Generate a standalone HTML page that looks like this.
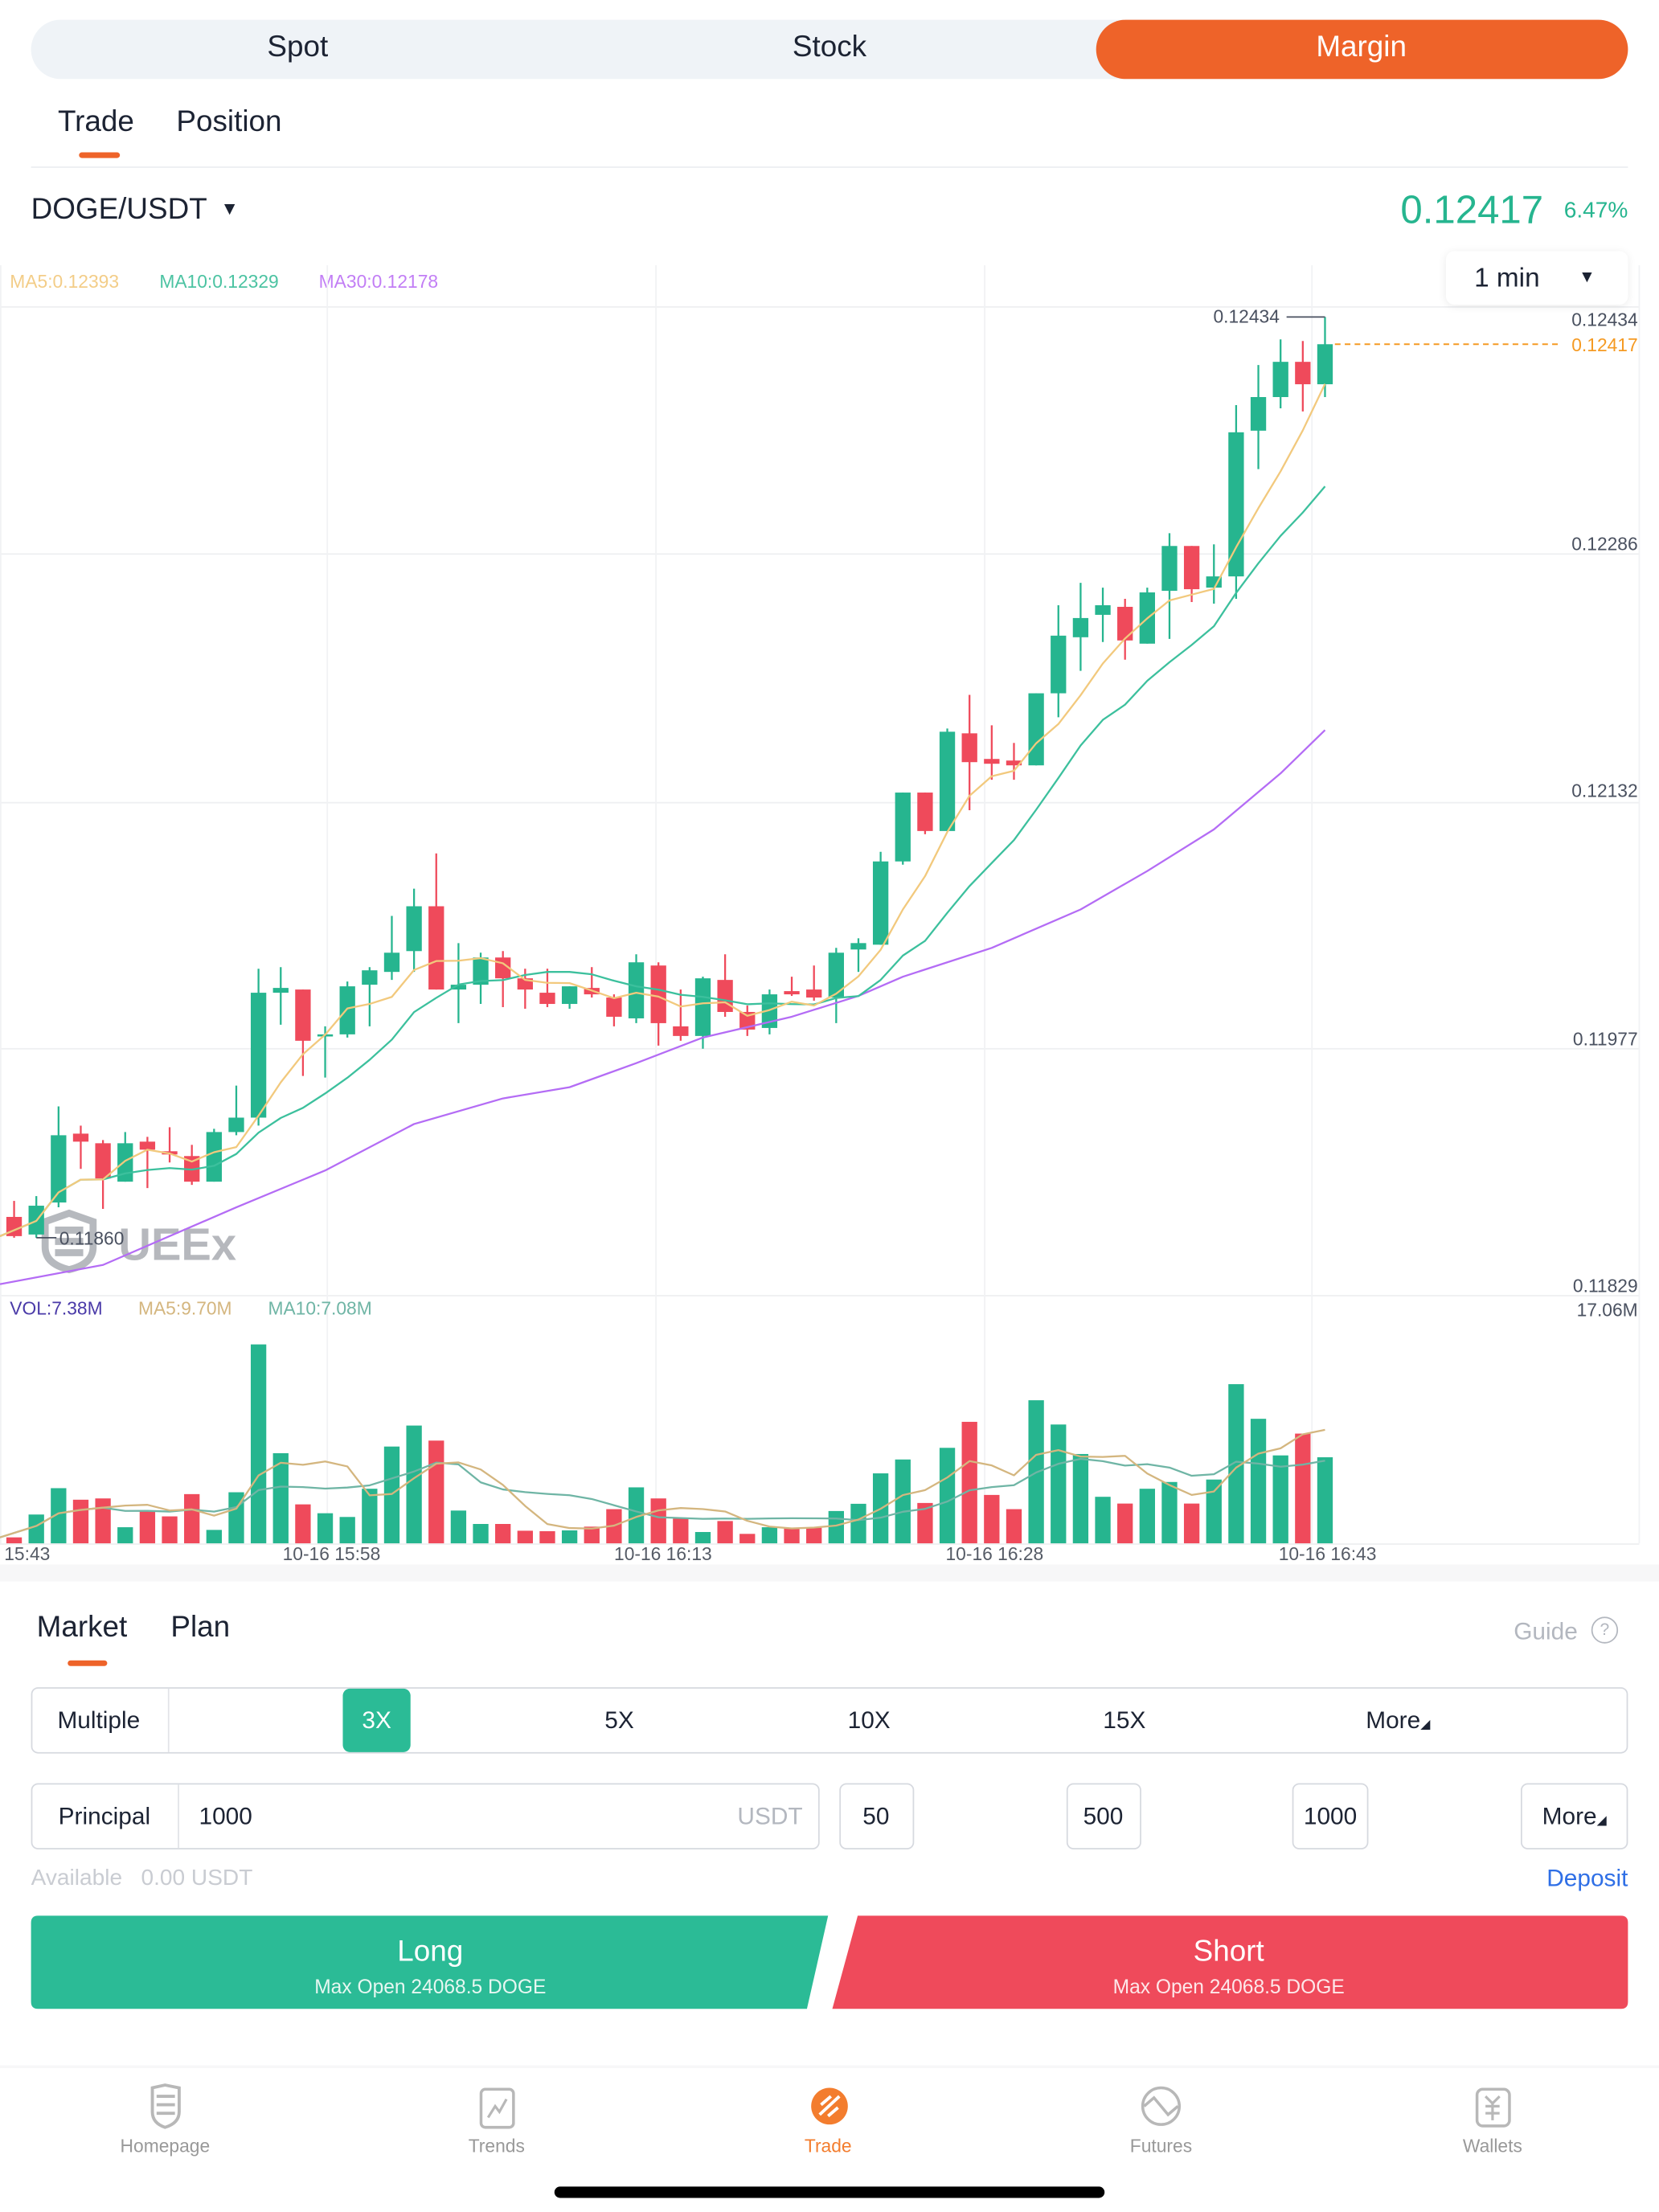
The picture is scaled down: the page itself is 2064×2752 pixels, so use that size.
<!DOCTYPE html>
<html><head><meta charset="utf-8">
<style>
html,body{margin:0;padding:0;background:#fff;}
body{width:2064px;height:2752px;overflow:hidden;position:relative;font-family:"Liberation Sans","DejaVu Sans",sans-serif;}
#page{position:absolute;left:0;top:0;width:1176px;height:1568px;transform:scale(1.7551);transform-origin:0 0;color:#1c2333;}
.abs{position:absolute;}
.ctr{position:absolute;transform:translate(-50%,-50%);white-space:nowrap;}
.box{position:absolute;border:1px solid #d6d9df;border-radius:5px;box-sizing:border-box;}
</style></head>
<body>
<div id="page">
  <div class="abs" style="left:22px;top:14px;width:1132px;height:42px;background:#eff3f7;border-radius:21px;"></div>
  <div class="abs" style="left:777px;top:14px;width:377px;height:42px;background:#ee6329;border-radius:21px;"></div>
  <div class="ctr" style="left:211px;top:34px;font-size:21px;">Spot</div>
  <div class="ctr" style="left:588px;top:34px;font-size:21px;">Stock</div>
  <div class="ctr" style="left:965px;top:34px;font-size:21px;color:#fff;">Margin</div>

  <div class="abs" style="left:41px;top:75px;font-size:21px;">Trade</div>
  <div class="abs" style="left:125px;top:75px;font-size:21px;">Position</div>
  <div class="abs" style="left:56px;top:108px;width:29px;height:4px;background:#ee6329;border-radius:2px;"></div>
  <div class="abs" style="left:22px;top:118px;width:1132px;height:1px;background:#eceef1;"></div>

  <div class="abs" style="left:22px;top:137px;font-size:21px;">DOGE/USDT <span style="font-size:13px;position:relative;top:-3px;left:4px;">▼</span></div>
  <div class="abs" style="right:82px;top:133px;font-size:28px;color:#26b58f;">0.12417</div>
  <div class="abs" style="right:22px;top:141px;font-size:16px;color:#26b58f;">6.47%</div>

  <div class="abs" style="left:7px;top:192px;font-size:13px;color:#f3cd88;">MA5:0.12393</div>
  <div class="abs" style="left:113px;top:192px;font-size:13px;color:#4cc3a2;">MA10:0.12329</div>
  <div class="abs" style="left:226px;top:192px;font-size:13px;color:#c27ef5;">MA30:0.12178</div>

  <svg class="abs" style="left:0;top:0;" width="1176" height="1130" viewBox="0 0 1176 1130" id="chart">
  </svg>

  <div class="abs" style="left:1025px;top:178px;width:129px;height:38px;background:#fff;border-radius:6px;box-shadow:0 1px 6px rgba(0,0,0,0.08);">
    <span class="abs" style="left:20px;top:9px;font-size:19px;">1 min</span>
    <span class="abs" style="left:94px;top:11px;font-size:12px;">▼</span>
  </div>

  <div class="abs" style="left:0;top:1109px;width:1176px;height:12px;background:#f7f7f8;"></div>

  <div class="abs" style="left:26px;top:1142px;font-size:21px;">Market</div>
  <div class="abs" style="left:121px;top:1142px;font-size:21px;">Plan</div>
  <div class="abs" style="left:48px;top:1177px;width:28px;height:4px;background:#ee6329;border-radius:2px;"></div>
  <div class="abs" style="left:1073px;top:1147px;font-size:17px;color:#b3b7bf;">Guide</div>
  <div class="abs" style="left:1128px;top:1146px;width:17px;height:17px;border:1.5px solid #b3b7bf;border-radius:50%;font-size:12px;color:#b3b7bf;text-align:center;line-height:17px;">?</div>

  <div class="box" style="left:22px;top:1196px;width:1132px;height:47px;"></div>
  <div class="abs" style="left:119px;top:1197px;width:1px;height:45px;background:#e2e4e8;"></div>
  <div class="ctr" style="left:70px;top:1220px;font-size:17px;">Multiple</div>
  <div class="abs" style="left:243px;top:1197px;width:48px;height:45px;background:#2bbb96;border-radius:5px;"></div>
  <div class="ctr" style="left:267px;top:1220px;font-size:17px;color:#fff;">3X</div>
  <div class="ctr" style="left:439px;top:1220px;font-size:17px;">5X</div>
  <div class="ctr" style="left:616px;top:1220px;font-size:17px;">10X</div>
  <div class="ctr" style="left:797px;top:1220px;font-size:17px;">15X</div>
  <div class="ctr" style="left:991px;top:1220px;font-size:17px;">More<span style="font-size:9px;">◢</span></div>

  <div class="box" style="left:22px;top:1264px;width:559px;height:47px;"></div>
  <div class="abs" style="left:126px;top:1265px;width:1px;height:45px;background:#e2e4e8;"></div>
  <div class="ctr" style="left:74px;top:1288px;font-size:17px;">Principal</div>
  <div class="abs" style="left:141px;top:1278px;font-size:17px;">1000</div>
  <div class="abs" style="right:607px;top:1278px;font-size:17px;color:#b3b7bf;">USDT</div>
  <div class="box" style="left:595px;top:1264px;width:53px;height:47px;"></div>
  <div class="ctr" style="left:621px;top:1288px;font-size:17px;">50</div>
  <div class="box" style="left:756px;top:1264px;width:53px;height:47px;"></div>
  <div class="ctr" style="left:782px;top:1288px;font-size:17px;">500</div>
  <div class="box" style="left:916px;top:1264px;width:54px;height:47px;"></div>
  <div class="ctr" style="left:943px;top:1288px;font-size:17px;">1000</div>
  <div class="box" style="left:1078px;top:1264px;width:76px;height:47px;"></div>
  <div class="ctr" style="left:1116px;top:1288px;font-size:17px;">More<span style="font-size:9px;">◢</span></div>

  <div class="abs" style="left:22px;top:1323px;font-size:16px;color:#c9ccd2;">Available&nbsp;&nbsp;&nbsp;0.00 USDT</div>
  <div class="abs" style="right:22px;top:1322px;font-size:17px;color:#2f6fe6;">Deposit</div>

  <svg class="abs" style="left:0;top:1350px;" width="1176" height="80">
    <path d="M27 8 H587 L572 74 H27 Q22 74 22 69 V13 Q22 8 27 8Z" fill="#2bbb96"/>
    <path d="M608 8 H1149 Q1154 8 1154 13 V69 Q1154 74 1149 74 H590Z" fill="#ef4a5b"/>
  </svg>
  <div class="ctr" style="left:305px;top:1384px;font-size:21px;color:#fff;">Long</div>
  <div class="ctr" style="left:305px;top:1408px;font-size:14px;color:#e6f7f1;">Max Open 24068.5 DOGE</div>
  <div class="ctr" style="left:871px;top:1384px;font-size:21px;color:#fff;">Short</div>
  <div class="ctr" style="left:871px;top:1408px;font-size:14px;color:#fde8ea;">Max Open 24068.5 DOGE</div>

  <div class="abs" style="left:0;top:1464px;width:1176px;height:2px;background:#f7f7f8;"></div>
  <svg class="abs" style="left:0;top:1475px;" width="1176" height="36">
    <path d="M108 5 L117 3 L127 5 V22 Q127 30 117 33 Q108 30 108 22Z M111 11 H124 M111 17 H124 M111 23 H124" fill="none" stroke="#b8b8b8" stroke-width="2.2"/>
    <rect x="341" y="6" width="23" height="27" rx="3" fill="none" stroke="#b8b8b8" stroke-width="2"/>
    <path d="M346 26 L351 18 L354 22 L359 13" fill="none" stroke="#b8b8b8" stroke-width="1.8"/>
    <circle cx="588" cy="18" r="13" fill="#f37d2e"/>
    <path d="M581 24 L595 11 M582 17 L589 11 M587 25 L594 19" stroke="#fff" stroke-width="2.2"/>
    <circle cx="823" cy="18" r="13" fill="none" stroke="#b8b8b8" stroke-width="2"/>
    <path d="M811 18 L818 12 L823 18 L828 24 L835 18" fill="none" stroke="#b8b8b8" stroke-width="2"/>
    <rect x="1047" y="6" width="23" height="26" rx="4" fill="none" stroke="#b8b8b8" stroke-width="2"/>
    <path d="M1053 11 L1058 16 L1063 11 M1058 16 V28 M1053 18 H1063 M1053 23 H1063" fill="none" stroke="#b8b8b8" stroke-width="1.8"/>
  </svg>
  <div class="ctr" style="left:117px;top:1521px;font-size:13px;color:#999;">Homepage</div>
  <div class="ctr" style="left:352px;top:1521px;font-size:13px;color:#999;">Trends</div>
  <div class="ctr" style="left:587px;top:1521px;font-size:13px;color:#f37d2e;">Trade</div>
  <div class="ctr" style="left:823px;top:1521px;font-size:13px;color:#999;">Futures</div>
  <div class="ctr" style="left:1058px;top:1521px;font-size:13px;color:#999;">Wallets</div>
  <div class="abs" style="left:393px;top:1550px;width:390px;height:8px;background:#000;border-radius:4px;"></div>
</div>

<script>
// ---- chart data ----
const opens  = [0.11872,0.11861,0.11881,0.11924,0.11918,0.11894,0.11919,0.11913,0.11910,0.11894,0.11925,0.11934,0.12012,0.12014,0.11985,0.11986,0.12017,0.12025,0.12038,0.12066,0.12014,0.12017,0.12034,0.12021,0.12012,0.12005,0.12015,0.12009,0.11996,0.12029,0.11991,0.11985,0.12020,0.12000,0.11990,0.12013,0.12014,0.12009,0.12039,0.12042,0.12094,0.12137,0.12113,0.12174,0.12158,0.12157,0.12154,0.12199,0.12234,0.12248,0.12253,0.12230,0.12263,0.12291,0.12265,0.12272,0.12363,0.12384,0.12406,0.12392];
const closes = [0.11860,0.11879,0.11923,0.11919,0.11896,0.11918,0.11914,0.11911,0.11894,0.11925,0.11934,0.12012,0.12015,0.11982,0.11986,0.12016,0.12026,0.12037,0.12066,0.12014,0.12017,0.12034,0.12021,0.12014,0.12005,0.12016,0.12011,0.11997,0.12031,0.11993,0.11985,0.12021,0.12000,0.11989,0.12011,0.12011,0.12009,0.12037,0.12043,0.12094,0.12137,0.12113,0.12175,0.12156,0.12155,0.12154,0.12199,0.12235,0.12246,0.12254,0.12232,0.12262,0.12291,0.12264,0.12272,0.12362,0.12384,0.12406,0.12392,0.12417];
const highs  = [0.11882,0.11885,0.11941,0.11929,0.11920,0.11925,0.11922,0.11928,0.11917,0.11927,0.11954,0.12027,0.12028,0.12014,0.11991,0.12019,0.12028,0.12060,0.12077,0.12099,0.12043,0.12037,0.12038,0.12027,0.12027,0.12016,0.12028,0.12011,0.12036,0.12031,0.12014,0.12022,0.12036,0.12004,0.12014,0.12022,0.12029,0.12040,0.12046,0.12100,0.12137,0.12137,0.12177,0.12198,0.12179,0.12168,0.12199,0.12254,0.12268,0.12265,0.12258,0.12265,0.12299,0.12291,0.12292,0.12379,0.12404,0.12420,0.12419,0.12434];
const lows   = [0.11859,0.11859,0.11878,0.11902,0.11877,0.11894,0.11890,0.11906,0.11892,0.11894,0.11923,0.11929,0.11992,0.11960,0.11959,0.11984,0.11991,0.12020,0.12025,0.12014,0.11993,0.12005,0.12003,0.12002,0.12003,0.12002,0.12009,0.11991,0.11993,0.11979,0.11982,0.11977,0.11997,0.11985,0.11986,0.12010,0.12007,0.11993,0.12025,0.12042,0.12092,0.12111,0.12113,0.12126,0.12145,0.12145,0.12154,0.12184,0.12213,0.12231,0.12220,0.12230,0.12233,0.12256,0.12255,0.12258,0.12339,0.12377,0.12375,0.12384];
const volumes = [0.51,2.47,4.73,3.74,3.85,1.38,2.81,2.31,4.22,1.15,4.38,17.06,7.73,3.34,2.58,2.26,4.68,8.30,10.10,8.81,2.81,1.66,1.66,1.08,1.04,1.11,1.43,2.93,4.80,3.85,2.12,0.97,1.91,0.81,1.38,1.31,1.34,2.77,3.39,6.00,7.19,3.46,8.19,10.42,4.15,2.93,12.27,10.19,7.66,3.99,3.41,4.68,5.26,3.41,5.47,13.65,10.68,7.54,9.41,7.38];
const ma30Index = [0,4,10,14,18,22,25,28,31,35,38,40,44,48,51,54,57,59];
const ma30Values = [0.11830,0.11842,0.11878,0.11901,0.11930,0.11946,0.11953,0.11968,0.11984,0.11997,0.12010,0.12022,0.12040,0.12064,0.12088,0.12114,0.12149,0.12176];
const priceTicks = ["0.12434","0.12286","0.12132","0.11977","0.11829"];
const timeLabels = ["15:43","10-16 15:58","10-16 16:13","10-16 16:28","10-16 16:43"];
const lastPriceLabel = "0.12417";
const highLabel = "0.12434";
const lowLabel = "0.11860";
const volMaxLabel = "17.06M";

const NS = "http://www.w3.org/2000/svg";
const svg = document.getElementById('chart');
const GREEN = "#26b58f", RED = "#ef4a5b";
function xAt(i){ return 10 + i * 15.75; }
function yPrice(p){ return 392.7 + (0.12286 - p) / 0.00000881; }
const VOL_BASE = 1094, VOL_H = 141, VOL_MAX = 17.06;
function yVol(v){ return VOL_BASE - v / VOL_MAX * VOL_H; }
function mk(tag, attrs){ const e = document.createElementNS(NS, tag); for (const k in attrs) e.setAttribute(k, attrs[k]); svg.appendChild(e); return e; }
function movingAvg(arr, n){ return arr.map((v,i)=>{ const s = Math.max(0,i-n+1); let t=0; for(let j=s;j<=i;j++) t+=arr[j]; return t/(i-s+1); }); }

[217.6, 392.7, 569, 743.4, 918.5].forEach(y=>{
  const g = mk('line',{x1:0,x2:1162,y1:y,y2:y,stroke:'#eeeff1','stroke-width':1});
  
  
});
[0.5, 232, 465, 698, 930, 1162].forEach(x=>{
  const g = mk('line',{x1:x,x2:x,y1:188,y2:1094,stroke:'#f1f2f4','stroke-width':1});
  
  
});
mk('line',{x1:0,x2:1162,y1:1094.5,y2:1094.5,stroke:'#eeeff1','stroke-width':1});

const wm = mk('g',{opacity:0.55});


const wmShield = document.createElementNS(NS,'path');
wmShield.setAttribute('d','M32 866 L49 860 L66 866 V884 Q66 896 49 900 Q32 896 32 884Z M39 872 H59 M39 880 H59 M39 888 H59');
wmShield.setAttribute('fill','none'); wmShield.setAttribute('stroke','#7a7f88'); wmShield.setAttribute('stroke-width','5');
wm.appendChild(wmShield);
const wmText = document.createElementNS(NS,'text');
wmText.setAttribute('x',84); wmText.setAttribute('y',893); wmText.setAttribute('font-size',32); wmText.setAttribute('font-weight','bold'); wmText.setAttribute('fill','#7a7f88');
wmText.setAttribute('font-family','"Liberation Sans", sans-serif');
wmText.textContent = 'UEEx';
wm.appendChild(wmText);

closes.forEach((c,i)=>{
  const o = opens[i], up = c >= o, col = up ? GREEN : RED, x = xAt(i);
  const w = mk('line',{x1:x,x2:x,y1:yPrice(highs[i]),y2:yPrice(lows[i]),stroke:col,'stroke-width':1.3});
  
  
  const top = yPrice(Math.max(o,c)), bot = yPrice(Math.min(o,c));
  const b = mk('rect',{x:x-5.5,y:top,width:11,height:Math.max(1.5,bot-top),fill:col});
  
  
});

function poly(xs, ys, color, name, w){
  const p = mk('polyline',{points:xs.map((x,i)=>x+','+ys[i]).join(' '),fill:'none',stroke:color,'stroke-width':w||1.3,'stroke-linejoin':'round'});
  
  
}
const idx = closes.map((_,i)=>i);
poly(ma30Index.map(xAt).map((x,k)=>k===0?0:x), ma30Values.map(yPrice), '#b46cf5', 'ma30-line');
poly(idx.map(xAt).map((x,k)=>k===0?0:x), movingAvg(closes,10).map(yPrice), '#3cc09d', 'ma10-line');
poly(idx.map(xAt).map((x,k)=>k===0?0:x), movingAvg(closes,5).map(yPrice), '#f2c97d', 'ma5-line');

volumes.forEach((v,i)=>{
  const up = closes[i] >= opens[i];
  const r = mk('rect',{x:xAt(i)-5.5,y:yVol(v),width:11,height:VOL_BASE-yVol(v),fill:up?GREEN:RED});
  
  
});
poly(idx.map(xAt).map((x,k)=>k===0?0:x), movingAvg(volumes,10).map(yVol), '#6fb5a5', 'volume-ma10-line');
poly(idx.map(xAt).map((x,k)=>k===0?0:x), movingAvg(volumes,5).map(yVol), '#d4b67f', 'volume-ma5-line');

function txt(x,y,s,opts){
  const t = mk('text',Object.assign({x:x,y:y,'font-size':13,fill:'#4a5160','font-family':'"Liberation Sans", sans-serif'},opts||{}));
  t.textContent = s; return t;
}
const tickY = [231, 390, 565, 741, 916];
priceTicks.forEach((s,k)=>{
  const t = txt(1161, tickY[k], s, {'text-anchor':'end'});
  
  
});
const vm = txt(1161, 933, volMaxLabel, {'text-anchor':'end'});



const lp = yPrice(closes[closes.length-1]);
const ll = mk('line',{x1:xAt(59)+7,x2:1106,y1:lp,y2:lp,stroke:'#f59a23','stroke-width':1.2,'stroke-dasharray':'4 3'});


const lpl = txt(1161, lp+5, lastPriceLabel, {'text-anchor':'end', fill:'#f59a23'});



const hy = yPrice(highs[59]);
mk('polyline',{points:(912)+','+hy+' '+xAt(59)+','+hy,fill:'none',stroke:'#4a5160','stroke-width':1});
const hl = txt(907, hy+4, highLabel, {'text-anchor':'end'});


const ly = yPrice(lows[0]);
mk('line',{x1:xAt(1),x2:40,y1:ly,y2:ly,stroke:'#4a5160','stroke-width':1});
const lwl = txt(42, ly+5, lowLabel, {});



const v1 = txt(7, 932, 'VOL:7.38M', {fill:'#4a3aa8'});


const v2 = txt(98, 932, 'MA5:9.70M', {fill:'#d4b67f'});


const v3 = txt(190, 932, 'MA10:7.08M', {fill:'#6fb5a5'});



const timeX = [3, 235, 470, 705, 941];
timeLabels.forEach((s,k)=>{
  const t = txt(timeX[k], 1106, s, {'text-anchor': k===0?'start':'middle', fill:'#555b66'});
  
  
});
</script>
</body></html>
